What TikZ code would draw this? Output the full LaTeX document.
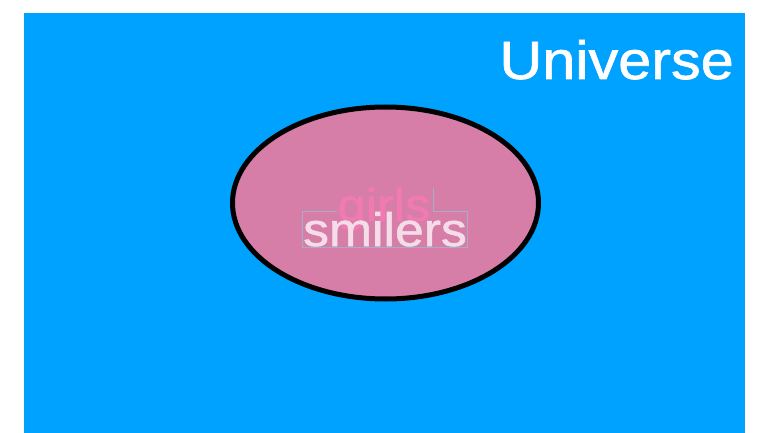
\documentclass[tikz,border=0pt]{standalone}
\usepackage{fontspec}
\setmainfont{Liberation Sans}[FakeStretch=1.1, FakeBold=1.2]
\usetikzlibrary{positioning}
\definecolor{univblue}{HTML}{00A2FF}
\definecolor{setpink}{HTML}{D67DA8}
\definecolor{girlpink}{HTML}{F27AB3}
\definecolor{smilewhite}{HTML}{F4DDE9}
\definecolor{framegray}{HTML}{A3AEC8}

\begin{document}
\begin{tikzpicture}[x=1pt, y=-1pt,
  settext/.style={inner sep=0pt, anchor=base},
  bigtext/.style={settext, font=\fontsize{54}{54}\selectfont}]
\useasboundingbox (0,0) rectangle (758,433);
% universo
\fill[univblue] (24,13) rectangle (745,433);
\node[bigtext, text=white, anchor=base east] (universe) at (734,79) {Universe};
% conjunto
\draw[line width=5pt, fill=setpink] (385.5,203) ellipse [x radius=153, y radius=96];
\draw[framegray, line width=0.5pt] (337,211) -- (302,211) -- (302,247) -- (467,247)
  -- (467,211) -- (433,211) -- (433,188);
\node[settext, font=\fontsize{46}{46}\selectfont, text=girlpink] (girls) at (384,221) {girls};
\node[settext, font=\fontsize{47}{47}\selectfont, text=smilewhite] (smilers) at (385,246) {smilers};
\end{tikzpicture}
\end{document}
